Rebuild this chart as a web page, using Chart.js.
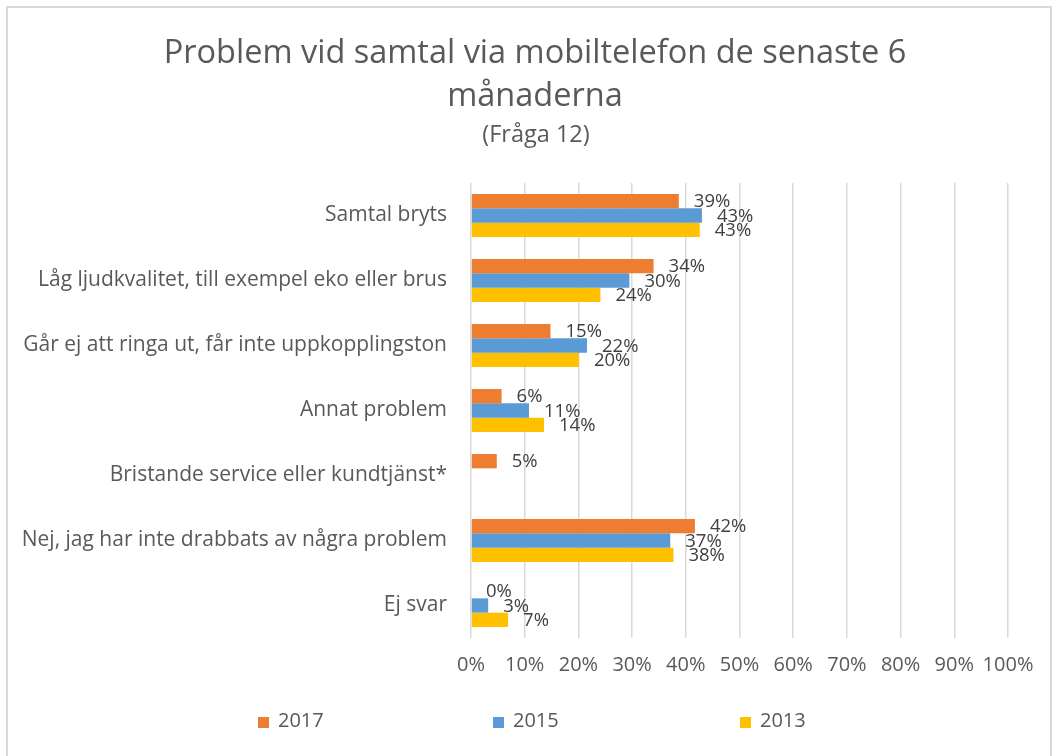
<!DOCTYPE html>
<html><head><meta charset="utf-8">
<script src="https://cdn.jsdelivr.net/npm/chart.js@4.4.1/dist/chart.umd.min.js"></script>
<style>
html,body{margin:0;padding:0;background:#fff;}
#wrap{position:relative;width:1057px;height:756px;}
canvas{display:block;}
</style>
</head><body>
<div id="wrap"><canvas id="c" width="1057" height="756"></canvas></div>
<script>
const categories = [
  'Samtal bryts',
  'Låg ljudkvalitet, till exempel eko eller brus',
  'Går ej att ringa ut, får inte uppkopplingston',
  'Annat problem',
  'Bristande service eller kundtjänst*',
  'Nej, jag har inte drabbats av några problem',
  'Ej svar'
];
const seriesNames = ['2017', '2015', '2013'];
const values2017 = [38.7, 34.0, 14.8, 5.7, 4.8, 41.7, 0];
const values2015 = [43.0, 29.5, 21.6, 10.8, null, 37.1, 3.2];
const values2013 = [42.6, 24.1, 20.1, 13.6, null, 37.7, 6.9];
const xTicks = [0, 10, 20, 30, 40, 50, 60, 70, 80, 90, 100];
const titleLines = ['Problem vid samtal via mobiltelefon de senaste 6', 'månaderna'];
const subtitleText = '(Fråga 12)';

const COLORS = ['#ED7D31', '#5B9BD5', '#FFC000'];
const FONT = '"Open Sans", "Noto Sans", sans-serif';
const TEXT = '#595959';

const PLOT_LEFT = 471, PLOT_RIGHT = 1008, PLOT_TOP = 183, PLOT_BOTTOM = 638;
const W = 1057, H = 756;
const X_AXIS_H = 50;

const decorPlugin = {
  id: 'decor',
  beforeDraw(chart) {
    const ctx = chart.ctx;
    ctx.save();
    ctx.fillStyle = '#fff';
    ctx.fillRect(0, 0, W, H);
    ctx.strokeStyle = '#D9D9D9';
    ctx.lineWidth = 2;
    ctx.beginPath();
    ctx.moveTo(7, H + 5); ctx.lineTo(7, 7); ctx.lineTo(1051, 7); ctx.lineTo(1051, H + 5);
    ctx.stroke();
    ctx.restore();
  },
  afterDraw(chart) {
    const ctx = chart.ctx;
    ctx.save();
    ctx.fillStyle = TEXT;
    ctx.textAlign = 'center';
    ctx.textBaseline = 'middle';
    ctx.font = '32.5px ' + FONT;
    ctx.fillText(titleLines[0], 535, 54);
    ctx.fillText(titleLines[1], 535, 97);
    ctx.font = '23.5px ' + FONT;
    ctx.fillText(subtitleText, 536, 135);
    // legend
    const legendX = [258, 493, 740];
    ctx.textAlign = 'left';
    ctx.font = '20px ' + FONT;
    chart.data.datasets.forEach((ds, i) => {
      ctx.fillStyle = ds.backgroundColor;
      ctx.fillRect(legendX[i], 717, 11, 11);
      ctx.fillStyle = TEXT;
      ctx.fillText(ds.label, legendX[i] + 20, 721);
    });
    ctx.restore();
  },
  afterDatasetsDraw(chart) {
    const ctx = chart.ctx;
    ctx.save();
    ctx.fillStyle = '#404040';
    ctx.font = '18.5px ' + FONT;
    ctx.textAlign = 'left';
    ctx.textBaseline = 'middle';
    chart.data.datasets.forEach((ds, i) => {
      const meta = chart.getDatasetMeta(i);
      meta.data.forEach((el, j) => {
        const v = ds.data[j];
        if (v === null || v === undefined) return;
        ctx.fillText(Math.round(v) + '%', el.x + 15, el.y + 1);
      });
    });
    ctx.restore();
  }
};

new Chart(document.getElementById('c'), {
  type: 'bar',
  data: {
    labels: categories,
    datasets: [
      { label: seriesNames[0], data: values2017, backgroundColor: COLORS[0] },
      { label: seriesNames[1], data: values2015, backgroundColor: COLORS[1] },
      { label: seriesNames[2], data: values2013, backgroundColor: COLORS[2] }
    ]
  },
  options: {
    indexAxis: 'y',
    responsive: false,
    animation: false,
    devicePixelRatio: 1,
    categoryPercentage: 0.66,
    barPercentage: 1.0,
    layout: { padding: { top: PLOT_TOP, left: 0, right: W - PLOT_RIGHT, bottom: H - PLOT_BOTTOM - X_AXIS_H } },
    plugins: { legend: { display: false }, title: { display: false }, tooltip: { enabled: false } },
    scales: {
      x: {
        min: 0, max: 100,
        afterBuildTicks(scale) { scale.ticks = xTicks.map(v => ({ value: v })); },
        afterFit(scale) { scale.height = X_AXIS_H; },
        grid: { color: '#D9D9D9', lineWidth: 1.5, drawTicks: false },
        border: { display: false },
        ticks: { padding: 15, color: TEXT, font: { family: FONT, size: 20 }, callback: v => v + '%', maxRotation: 0, autoSkip: false }
      },
      y: {
        afterFit(scale) { scale.width = PLOT_LEFT; },
        grid: { display: false, drawTicks: false },
        border: { display: false },
        ticks: { padding: 24, color: TEXT, font: { family: FONT, size: 21 }, autoSkip: false }
      }
    }
  },
  plugins: [decorPlugin]
});
</script>
</body></html>
